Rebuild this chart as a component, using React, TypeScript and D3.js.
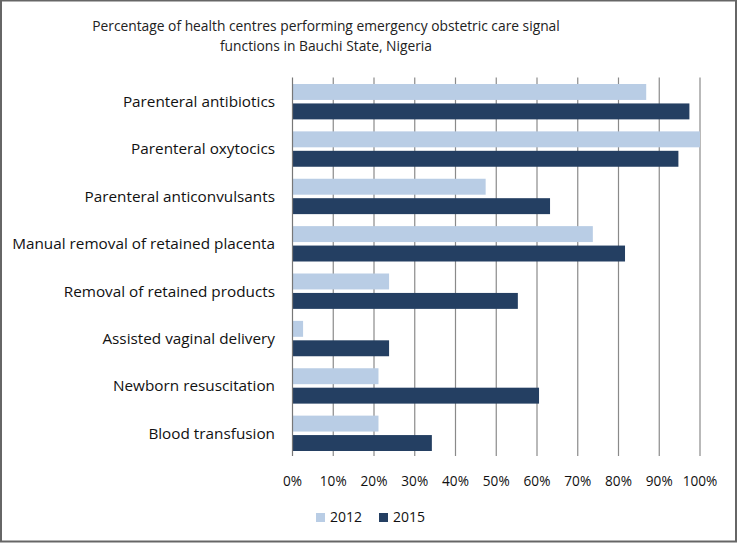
import React from "react";
import * as d3 from "d3";

const categories = [
  "Parenteral antibiotics",
  "Parenteral oxytocics",
  "Parenteral anticonvulsants",
  "Manual removal of retained placenta",
  "Removal of retained products",
  "Assisted vaginal delivery",
  "Newborn resuscitation",
  "Blood transfusion",
];
const values2012 = [86.8, 100, 47.4, 73.7, 23.7, 2.6, 21.1, 21.1];
const values2015 = [97.4, 94.7, 63.2, 81.6, 55.3, 23.7, 60.5, 34.2];
const seriesNames = ["2012", "2015"];
const tickValues = [0, 10, 20, 30, 40, 50, 60, 70, 80, 90, 100];
const titleLines = [
  "Percentage of health centres performing emergency obstetric care signal",
  "functions in Bauchi State, Nigeria",
];

const W = 740;
const H = 543;
const colors = ["#b9cde5", "#243f62"];
const font = "'Open Sans', Lato, sans-serif";

export default function App() {
  const x = d3.scaleLinear().domain([0, 100]).range([292.5, 700]);
  const y = d3.scaleBand().domain(categories).range([78, 457]).paddingInner(0).paddingOuter(0);
  const inner = d3
    .scaleBand()
    .domain(seriesNames)
    .range([6, y.bandwidth() - 6])
    .paddingInner(0.18);
  const series = [values2012, values2015];

  return (
    <svg
      width={W}
      height={H}
      style={{ position: "absolute", left: 0, top: 0, display: "block", background: "#fff" }}
      fontFamily={font}
    >
      <rect x={1} y={0.5} width={735} height={541} fill="#fff" stroke="#666" strokeWidth={2} />
      {titleLines.map((t, i) => (
        <text key={i} x={326} y={31 + i * 20} textAnchor="middle" fontSize={13.8} fill="#222">
          {t}
        </text>
      ))}
      {tickValues.slice(1).map((v) => (
        <line key={v} x1={x(v)} x2={x(v)} y1={77.5} y2={456} stroke="#8a8a8a" strokeWidth={1.2} />
      ))}
      {categories.map((c, i) => (
        <g key={c}>
          {series.map((vals, s) => (
            <rect
              key={s}
              x={x(0)}
              y={(y(c) as number) + (inner(seriesNames[s]) as number)}
              width={x(vals[i]) - x(0)}
              height={inner.bandwidth()}
              fill={colors[s]}
            />
          ))}
          <text
            x={275}
            y={(y(c) as number) + y.bandwidth() / 2}
            dy="0.35em"
            textAnchor="end"
            fontSize={15.3}
            fill="#111"
          >
            {c}
          </text>
        </g>
      ))}
      <line x1={x(0)} x2={x(0)} y1={77.5} y2={456} stroke="#777" strokeWidth={1.2} />
      {tickValues.map((v) => (
        <text key={v} x={x(v)} y={481} dy="0.35em" textAnchor="middle" fontSize={13.6} fill="#111">
          {v + "%"}
        </text>
      ))}
      {seriesNames.map((s, i) => (
        <g key={s} transform={`translate(${316 + i * 63},513)`}>
          <rect x={0} y={0} width={9} height={9} fill={colors[i]} />
          <text x={14} y={4.5} dy="0.35em" fontSize={14} fill="#111">
            {s}
          </text>
        </g>
      ))}
    </svg>
  );
}
